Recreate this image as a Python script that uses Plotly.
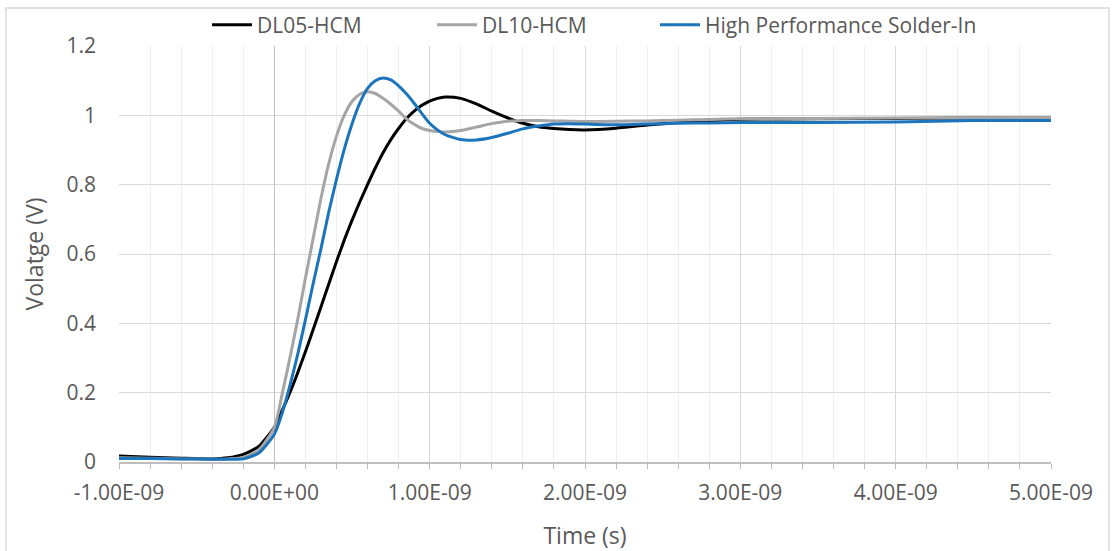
import plotly.graph_objects as go

# Time in nanoseconds (converted to seconds for plotting)
time_ns = [-1.0, -0.8, -0.6, -0.4, -0.3, -0.2, -0.1, 0.0, 0.05, 0.1, 0.15, 0.2, 0.25,
           0.3, 0.35, 0.4, 0.45, 0.5, 0.55, 0.6, 0.65, 0.7, 0.75, 0.8, 0.85, 0.9, 0.95,
           1.0, 1.05, 1.1, 1.2, 1.3, 1.4, 1.5, 1.6, 1.7, 1.8, 1.9, 2.0, 2.2, 2.4, 2.6,
           2.8, 3.0, 3.5, 4.0, 4.5, 5.0]

dl05_hcm = [0.017, 0.014, 0.011, 0.009, 0.012, 0.022, 0.045, 0.10, 0.148, 0.20, 0.257,
            0.318, 0.382, 0.447, 0.513, 0.578, 0.64, 0.697, 0.75, 0.80, 0.848, 0.892,
            0.93, 0.962, 0.99, 1.012, 1.029, 1.041, 1.049, 1.053, 1.049, 1.033, 1.012,
            0.993, 0.977, 0.967, 0.962, 0.959, 0.958, 0.963, 0.972, 0.979, 0.985,
            0.989, 0.990, 0.991, 0.992, 0.993]

dl10_hcm = [0.012, 0.011, 0.009, 0.008, 0.009, 0.013, 0.035, 0.10, 0.195, 0.30, 0.41,
            0.53, 0.645, 0.76, 0.86, 0.94, 1.0, 1.04, 1.061, 1.068, 1.063, 1.049,
            1.032, 1.012, 0.99, 0.974, 0.962, 0.956, 0.953, 0.952, 0.956, 0.966, 0.976,
            0.983, 0.985, 0.985, 0.984, 0.983, 0.982, 0.983, 0.984, 0.986, 0.988,
            0.990, 0.991, 0.992, 0.993, 0.994]

hp_solder_in = [0.010, 0.010, 0.009, 0.008, 0.008, 0.009, 0.026, 0.08, 0.14, 0.22,
                0.31, 0.41, 0.515, 0.615, 0.72, 0.815, 0.902, 0.975, 1.035, 1.078, 1.10,
                1.108, 1.102, 1.085, 1.062, 1.035, 1.005, 0.977, 0.958, 0.944, 0.930,
                0.929, 0.936, 0.948, 0.961, 0.969, 0.975, 0.976, 0.975, 0.973, 0.975,
                0.977, 0.978, 0.979, 0.979, 0.981, 0.985, 0.985]

x_tick_values = [-1e-9, 0.0, 1e-9, 2e-9, 3e-9, 4e-9, 5e-9]
x_tick_labels = ["-1.00E-09", "0.00E+00", "1.00E-09", "2.00E-09", "3.00E-09",
                 "4.00E-09", "5.00E-09"]
y_tick_values = [0, 0.2, 0.4, 0.6, 0.8, 1.0, 1.2]
y_tick_labels = ["0", "0.2", "0.4", "0.6", "0.8", "1", "1.2"]

series_names = ["DL05-HCM", "DL10-HCM", "High Performance Solder-In"]
series_colors = ["#000000", "#A5A5A5", "#1C75BC"]

time_s = [t * 1e-9 for t in time_ns]

FONT = "Open Sans"
TEXT = "#595959"

PLOT_L, PLOT_R, PLOT_T, PLOT_B = 119, 1051, 46, 462
PW, PH = PLOT_R - PLOT_L, PLOT_B - PLOT_T

def px_x(p):
    return (p - PLOT_L) / PW

def px_y(p):
    return (PLOT_B - p) / PH

legend_ids = ["legend", "legend2", "legend3"]
legend_left_px = [207, 432, 655]

fig = go.Figure()
for name, ys, col, lg in zip(series_names, [dl05_hcm, dl10_hcm, hp_solder_in],
                             series_colors, legend_ids):
    fig.add_trace(go.Scatter(
        x=time_s, y=ys, name=name, mode="lines", legend=lg,
        line=dict(color=col, width=3, shape="spline", smoothing=0.6),
    ))

legend_common = dict(
    orientation="h", xanchor="left", yanchor="middle", y=px_y(25),
    font=dict(family=FONT, size=21, color=TEXT),
    bgcolor="rgba(0,0,0,0)", itemwidth=40,
)

fig.update_layout(
    width=1114, height=551,
    margin=dict(l=PLOT_L, r=1114 - PLOT_R, t=PLOT_T, b=551 - PLOT_B, autoexpand=False),
    paper_bgcolor="white", plot_bgcolor="white",
    font=dict(family=FONT, color=TEXT, size=21),
    showlegend=True,
    legend=dict(x=px_x(legend_left_px[0]), **legend_common),
    legend2=dict(x=px_x(legend_left_px[1]), **legend_common),
    legend3=dict(x=px_x(legend_left_px[2]), **legend_common),
    xaxis=dict(
        range=[-1e-9, 5e-9],
        tickmode="array", tickvals=x_tick_values, ticktext=x_tick_labels,
        ticks="outside", ticklen=5, tickcolor="#bfbfbf", tickwidth=1,
        showgrid=True, gridcolor="#d9d9d9", gridwidth=1,
        minor=dict(dtick=0.2e-9, tick0=0, showgrid=True, gridcolor="#eeeeee",
                   ticks="outside", ticklen=5, tickcolor="#bfbfbf", tickwidth=1),
        zeroline=True, zerolinecolor="#bfbfbf", zerolinewidth=1,
        showline=True, linecolor="#bfbfbf", linewidth=2,
        tickfont=dict(family=FONT, size=21, color=TEXT),
        ticklabelstandoff=6,
        title=dict(text="Time (s)", font=dict(family=FONT, size=23, color=TEXT), standoff=24),
    ),
    yaxis=dict(
        range=[0, 1.2],
        tickmode="array", tickvals=y_tick_values, ticktext=y_tick_labels,
        ticks="", showgrid=True, gridcolor="#d9d9d9", gridwidth=1,
        zeroline=False,
        showline=False,
        tickfont=dict(family=FONT, size=21, color=TEXT),
        ticklabelstandoff=22,
        title=dict(text="Volatge (V)", font=dict(family=FONT, size=23, color=TEXT), standoff=16),
    ),
    shapes=[dict(
        type="rect", xref="paper", yref="paper",
        x0=px_x(6), x1=px_x(1109), y0=px_y(560), y1=px_y(8),
        line=dict(color="#d9d9d9", width=1.5), fillcolor="rgba(0,0,0,0)", layer="below",
    )],
)

fig.write_html("out.html")
